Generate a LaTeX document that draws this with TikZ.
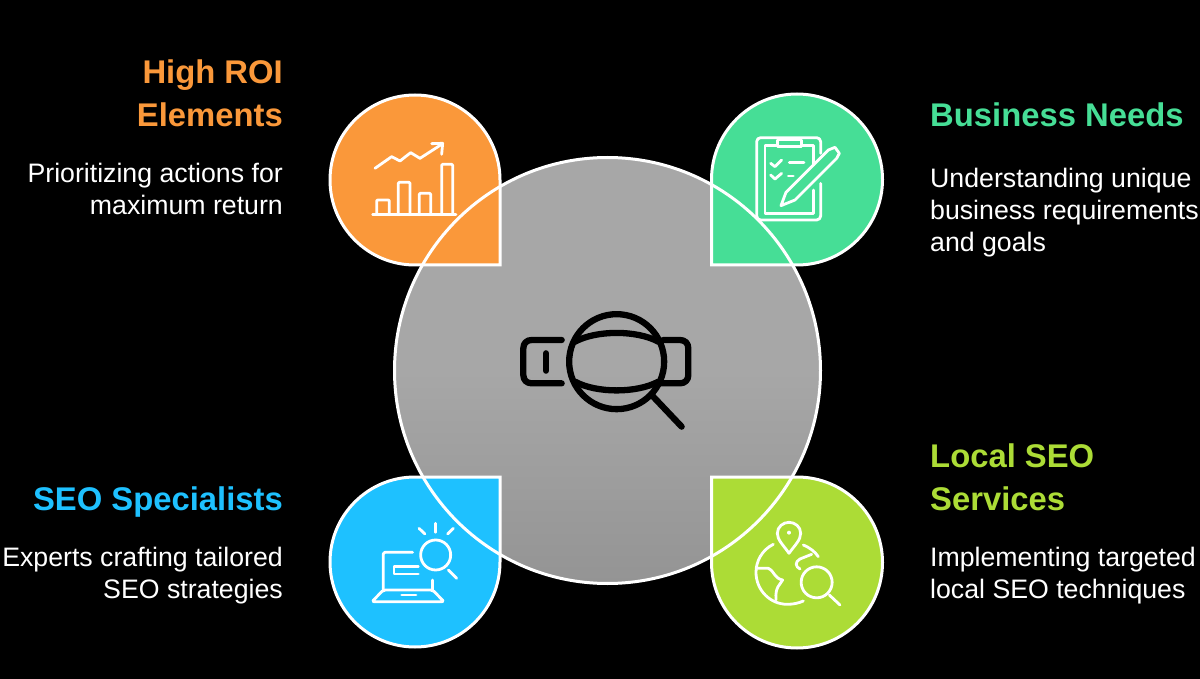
\documentclass[tikz,border=0pt]{standalone}
\usepackage{fontspec}
\setmainfont{Liberation Sans}
\definecolor{roicol}{RGB}{250,152,58}
\definecolor{needcol}{RGB}{70,222,150}
\definecolor{expertcol}{RGB}{30,193,255}
\definecolor{localcol}{RGB}{172,220,54}
\definecolor{lenscol}{RGB}{167,167,167}
\definecolor{lensdark}{RGB}{148,148,148}
\tikzset{
	petal/.style={draw=white, line width=3pt, line join=miter},
	icon/.style={draw=white, line width=2.8pt, line cap=round, line join=round},
	glass/.style={draw=black, line width=6.3pt, line cap=round, line join=round},
	headtext/.style={font=\fontsize{32.8}{43}\selectfont\bfseries, inner sep=0pt},
	bodytext/.style={font=\fontsize{26.7}{32}\selectfont, inner sep=0pt},
}
\begin{document}
\begin{tikzpicture}[x=1pt, y=-1pt]
	%%%%% START %%%%%
	\useasboundingbox (0, 0) rectangle (1200, 679);
	\fill[black] (0, 0) rectangle (1200, 679);

	\shade[top color=lenscol, bottom color=lensdark, middle color=lenscol] (607.5, 370.5) circle (213pt);

	\draw[petal, fill=roicol] (500, 265) -- (415, 265) arc (270:0:85pt) -- cycle;
	\draw[petal, fill=needcol] (711.5, 265) -- (711.5, 179.5) arc (180:-90:85.5pt) -- cycle;
	\draw[petal, fill=expertcol] (500, 477) -- (500, 562) arc (0:-270:85pt) -- cycle;
	\draw[petal, fill=localcol] (711.5, 477) -- (797, 477) arc (90:-180:85.5pt) -- cycle;

	\draw[draw=white, line width=3pt] (607.5, 370.5) circle (213pt);

	% chart
	\begin{scope}[shift={(320, 85)}, x=0.3333pt, y=-0.3333pt]
		\draw[icon] (158, 388) -- (408, 388);
		\draw[icon, rounded corners=1pt] (170, 388) -- (170, 345) -- (208, 345) -- (208, 388);
		\draw[icon, rounded corners=1pt] (235, 388) -- (235, 292) -- (270, 292) -- (270, 388);
		\draw[icon, rounded corners=1pt] (298, 388) -- (298, 325) -- (332, 325) -- (332, 388);
		\draw[icon, rounded corners=1pt] (365, 388) -- (365, 238) -- (398, 238) -- (398, 388);
		\draw[icon] (165, 250) -- (215, 215) -- (240, 228) -- (272, 203) -- (300, 220) -- (365, 178);
		\draw[icon] (335, 176) -- (368, 175) -- (365, 208);
	\end{scope}

	% clipboard
	\begin{scope}[shift={(700, 85)}, x=0.3333pt, y=-0.3333pt]
		\draw[icon, rounded corners=4pt] (362, 205) -- (362, 158) -- (170, 158) -- (170, 405) -- (362, 405) -- (362, 295);
		\draw[icon] (340, 240) -- (340, 182) -- (305, 182);
		\draw[icon] (232, 182) -- (195, 182) -- (195, 385) -- (340, 385) -- (340, 315);
		\draw[icon] (232, 165) -- (305, 165) -- (305, 185) -- (232, 185) -- cycle;
		\draw[icon] (258, 322) -- (385, 195) -- (405, 187) -- (418, 205) -- (410, 220) -- (285, 345) -- (243, 362) -- cycle;
		\draw[icon] (212, 235) -- (225, 245) -- (245, 225);
		\draw[icon] (268, 233) -- (312, 233);
		\draw[icon] (212, 270) -- (225, 282) -- (245, 265);
		\draw[icon] (265, 273) -- (280, 273);
	\end{scope}

	% laptop
	\begin{scope}[shift={(320, 465)}, x=0.3333pt, y=-0.3333pt]
		\draw[icon, rounded corners=1.5pt] (278, 262) -- (190, 262) -- (190, 375);
		\draw[icon] (338, 345) -- (338, 375);
		\draw[icon, rounded corners=2pt] (190, 375) -- (338, 375) -- (372, 410) -- (156, 410) -- cycle;
		\draw[icon] (245, 390) -- (288, 390);
		\draw[icon] (295, 305) -- (222, 305) -- (222, 327) -- (295, 327);
		\draw[icon] (347, 270) circle (15pt);
		\draw[icon] (385, 315) -- (410, 340);
		\draw[icon] (297, 190) -- (315, 207);
		\draw[icon] (347, 175) -- (347, 202);
		\draw[icon] (400, 190) -- (383, 207);
	\end{scope}

	% globe
	\begin{scope}[shift={(700, 465)}, x=0.3333pt, y=-0.3333pt]
		\draw[icon] (267, 265) .. controls (250, 240) and (232, 225) .. (232, 205) .. controls (232, 185) and (250, 172) .. (267, 172) .. controls (285, 172) and (302, 185) .. (302, 205) .. controls (302, 225) and (285, 240) .. (267, 265) -- cycle;
		\fill[white] (267, 203) circle (2pt);
		\draw[icon] (220, 238) .. controls (185, 255) and (168, 290) .. (168, 322) .. controls (168, 375) and (210, 418) .. (262, 418) .. controls (280, 418) and (297, 414) .. (310, 408);
		\draw[icon] (310, 240) .. controls (328, 247) and (345, 260) .. (355, 275);
		\draw[icon] (172, 310) -- (205, 310) .. controls (225, 320) and (222, 340) .. (248, 345) .. controls (240, 360) and (225, 365) .. (228, 405);
		\draw[icon] (335, 268) -- (300, 282) .. controls (285, 290) and (285, 305) .. (300, 312);
		\draw[icon] (350, 352) circle (15.5pt);
		\draw[icon] (388, 390) -- (420, 420);
	\end{scope}

	% belt under the lens
	\begin{scope}[shift={(510, 300)}, x=0.3333pt, y=-0.3333pt]
		\draw[glass] (155, 120) -- (65, 120) .. controls (50, 120) and (40, 130) .. (40, 145) -- (40, 225) .. controls (40, 240) and (50, 250) .. (65, 250) -- (155, 250);
		\draw[glass] (108, 160) -- (108, 212);
		\draw[glass] (195, 125) .. controls (260, 90) and (380, 90) .. (445, 125);
		\draw[glass] (195, 245) .. controls (260, 280) and (380, 280) .. (445, 245);
		\draw[glass] (460, 120) -- (510, 120) .. controls (525, 120) and (535, 130) .. (535, 145) -- (535, 225) .. controls (535, 240) and (525, 250) .. (510, 250) -- (440, 250);
		\draw[glass] (320, 185) circle (47.5pt);
		\draw[glass] (425, 285) -- (515, 380);
	\end{scope}

	\node[headtext, text=roicol, align=right, anchor=north east] (roihead) at (283, 60) {High ROI\\Elements};
	\node[bodytext, text=white, align=right, anchor=north east] (roibody) at (283, 163) {Prioritizing actions for\\maximum return};
	\node[headtext, text=needcol, align=left, anchor=north west] (needhead) at (930, 103) {Business Needs};
	\node[bodytext, text=white, align=left, anchor=north west] (needbody) at (930, 168) {Understanding unique\\business requirements\\and goals};
	\node[headtext, text=expertcol, align=right, anchor=north east] (experthead) at (283, 487) {SEO Specialists};
	\node[bodytext, text=white, align=right, anchor=north east] (expertbody) at (283, 547) {Experts crafting tailored\\SEO strategies};
	\node[headtext, text=localcol, align=left, anchor=north west] (localhead) at (930, 444) {Local SEO\\Services};
	\node[bodytext, text=white, align=left, anchor=north west] (localbody) at (930, 547) {Implementing targeted\\local SEO techniques};
	%%%%% END %%%%%
\end{tikzpicture}
\end{document}
